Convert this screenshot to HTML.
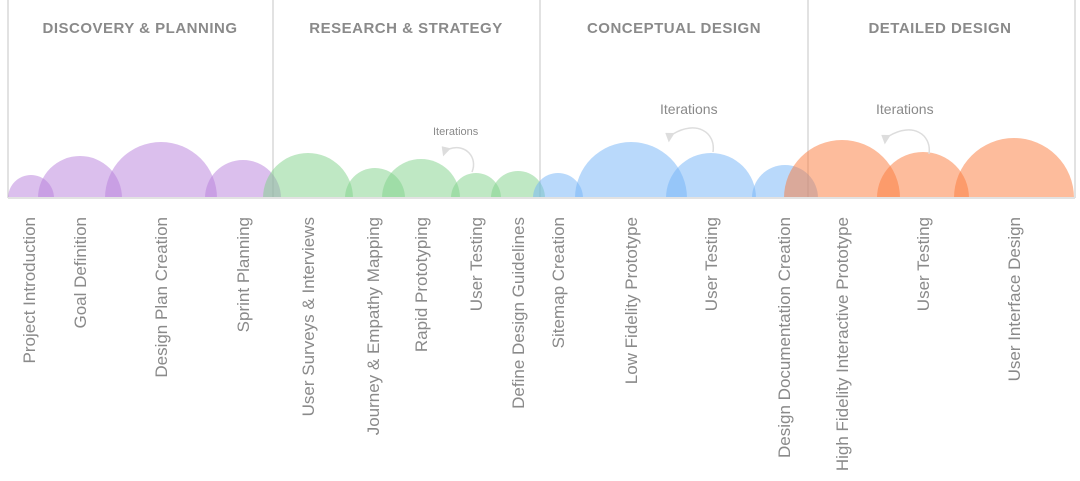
<!DOCTYPE html>
<html><head><meta charset="utf-8"><style>
html,body{margin:0;padding:0;background:#fff;width:1080px;height:481px;overflow:hidden}
svg{display:block;font-family:"Liberation Sans",sans-serif}
</style></head><body>
<svg width="1080" height="481" viewBox="0 0 1080 481">
<defs>
<clipPath id="c"><rect x="0" y="0" width="1080" height="198"/></clipPath>
<marker id="ar" markerWidth="10" markerHeight="10" refX="2" refY="5" orient="auto" markerUnits="userSpaceOnUse"><path d="M0,5 L10,0 L8,10 Z" fill="#ddd"/></marker>
</defs>
<g stroke="#e2e2e2" stroke-width="2">
<line x1="8" y1="0" x2="8" y2="198"/>
<line x1="273" y1="0" x2="273" y2="198"/>
<line x1="540" y1="0" x2="540" y2="198"/>
<line x1="808" y1="0" x2="808" y2="198"/>
<line x1="1075" y1="0" x2="1075" y2="198"/>
</g>
<g font-size="15" font-weight="bold" fill="#8a8a8a" text-anchor="middle" letter-spacing="0.5">
<text x="140" y="33">DISCOVERY &amp; PLANNING</text>
<text x="406" y="33">RESEARCH &amp; STRATEGY</text>
<text x="674" y="33">CONCEPTUAL DESIGN</text>
<text x="940" y="33">DETAILED DESIGN</text>
</g>
<g clip-path="url(#c)">
<g fill="rgb(183,127,219)" fill-opacity="0.5">
<circle cx="31" cy="198" r="23"/><circle cx="80" cy="198" r="42"/><circle cx="161" cy="198" r="56"/><circle cx="243" cy="198" r="38"/>
</g>
<g fill="rgb(128,210,137)" fill-opacity="0.5">
<circle cx="308" cy="198" r="45"/><circle cx="375" cy="198" r="30"/><circle cx="421" cy="198" r="39"/><circle cx="476" cy="198" r="25"/><circle cx="518" cy="198" r="27"/>
</g>
<g fill="rgb(115,179,247)" fill-opacity="0.5">
<circle cx="558" cy="198" r="25"/><circle cx="631" cy="198" r="56"/><circle cx="711" cy="198" r="45"/><circle cx="785" cy="198" r="33"/>
</g>
<g fill="rgb(251,121,57)" fill-opacity="0.5">
<circle cx="842" cy="198" r="58"/><circle cx="923" cy="198" r="46"/><circle cx="1014" cy="198" r="60"/>
</g>
</g>
<line x1="8" y1="198" x2="1075" y2="198" stroke="#e2e2e2" stroke-width="2"/>
<g fill="#8a8a8a">
<text x="433" y="135" font-size="11">Iterations</text>
<text x="660" y="114" font-size="14">Iterations</text>
<text x="876" y="114" font-size="14">Iterations</text>
</g>
<g fill="none" stroke="#ddd" stroke-width="1.5">
<path d="M472,172 C478,158 466,143 449,149" marker-end="url(#ar)"/>
<path d="M713,152 C716,132 696,120 673,134" marker-end="url(#ar)"/>
<path d="M929,154 C932,134 912,122 889,136" marker-end="url(#ar)"/>
</g>
<g font-size="17" fill="#8a8a8a" text-anchor="end">
<text transform="translate(35,217) rotate(-90)">Project Introduction</text>
<text transform="translate(86,217) rotate(-90)">Goal Definition</text>
<text transform="translate(167,217) rotate(-90)">Design Plan Creation</text>
<text transform="translate(249,217) rotate(-90)">Sprint Planning</text>
<text transform="translate(314,217) rotate(-90)">User Surveys &amp; Interviews</text>
<text transform="translate(379,217) rotate(-90)">Journey &amp; Empathy Mapping</text>
<text transform="translate(427,217) rotate(-90)">Rapid Prototyping</text>
<text transform="translate(482,217) rotate(-90)">User Testing</text>
<text transform="translate(524,217) rotate(-90)">Define Design Guidelines</text>
<text transform="translate(564,217) rotate(-90)">Sitemap Creation</text>
<text transform="translate(637,217) rotate(-90)">Low Fidelity Prototype</text>
<text transform="translate(717,217) rotate(-90)">User Testing</text>
<text transform="translate(790,217) rotate(-90)">Design Documentation Creation</text>
<text transform="translate(848,217) rotate(-90)">High Fidelity Interactive Prototype</text>
<text transform="translate(929,217) rotate(-90)">User Testing</text>
<text transform="translate(1020,217) rotate(-90)">User Interface Design</text>
</g>
</svg>
</body></html>
